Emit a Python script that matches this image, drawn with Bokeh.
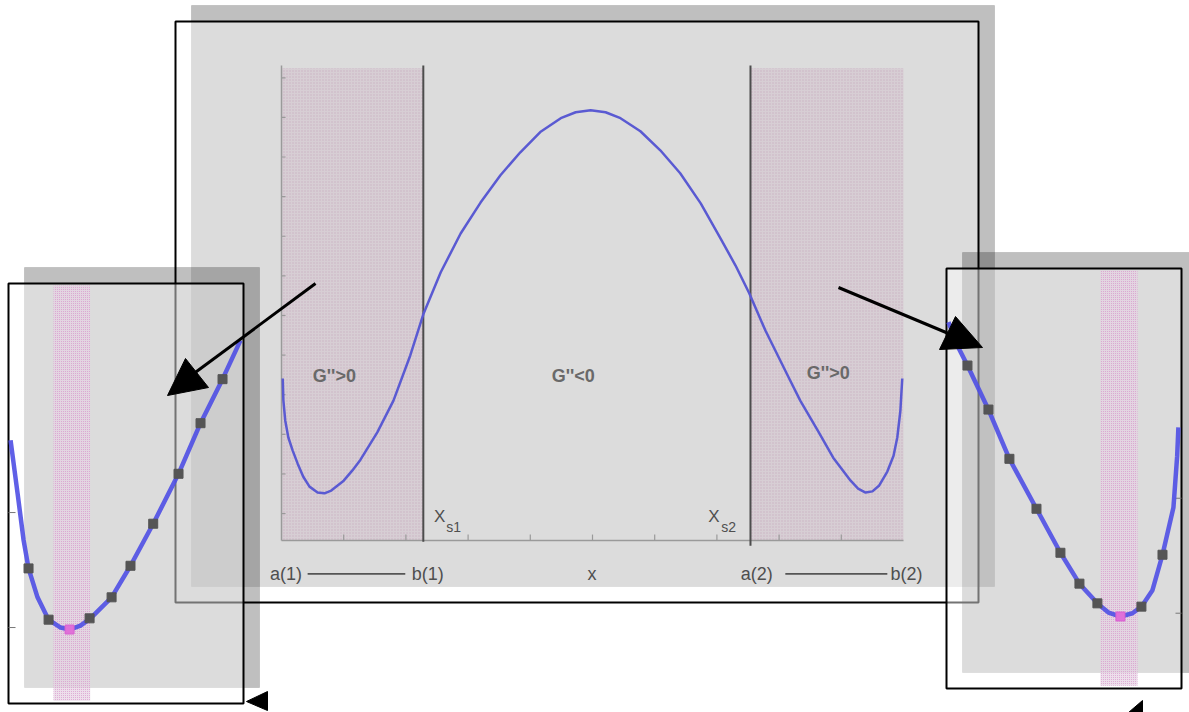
from bokeh.plotting import figure
from bokeh.models import Range1d
from bokeh.embed import file_html
from bokeh.resources import INLINE
from bokeh.core.properties import value

# ---------------- data ----------------
# free-energy curve G(x) of the main chart (composition x, arbitrary G units)
x_main = [0.002, 0.003, 0.006, 0.011, 0.018, 0.026, 0.035, 0.045, 0.058, 0.069,
          0.080, 0.100, 0.114, 0.127, 0.154, 0.180, 0.207, 0.228, 0.256, 0.288,
          0.320, 0.352, 0.384, 0.416, 0.449, 0.473, 0.497, 0.521, 0.545, 0.577,
          0.609, 0.641, 0.674, 0.706, 0.730, 0.752, 0.778, 0.814, 0.834, 0.862,
          0.887, 0.915, 0.927, 0.939, 0.950, 0.961, 0.974, 0.984, 0.990, 0.995,
          0.998]
g_main = [3.41, 2.86, 2.35, 1.92, 1.59, 1.26, 0.93, 0.68, 0.53, 0.51,
          0.58, 0.83, 1.09, 1.36, 2.05, 2.85, 3.99, 5.03, 6.09, 7.07,
          7.85, 8.54, 9.12, 9.63, 9.98, 10.13, 10.18, 10.13, 9.98, 9.65,
          9.17, 8.59, 7.83, 6.94, 6.26, 5.56, 4.62, 3.48, 2.85, 2.10,
          1.41, 0.83, 0.63, 0.53, 0.56, 0.71, 1.06, 1.46, 1.92, 2.60,
          3.41]

# spinodal compositions (G'' = 0)
x_spinodal = [0.228, 0.754]
spinodal_labels = ["s1", "s2"]

# axis ticks of the main chart
x_ticks = [0.1, 0.2, 0.3, 0.4, 0.5, 0.6, 0.7, 0.8, 0.9]
g_ticks = [0, 1, 2, 3, 4, 5, 6, 7, 8, 9, 10, 11]

# region labels
region_labels = ["G''>0", "G''<0", "G''>0"]
region_x = [0.085, 0.469, 0.879]
region_g = [3.48, 3.48, 3.56]

# labels under the composition axis
bottom_labels = ["a(1)", "b(1)", "x", "a(2)", "b(2)"]
bottom_x = [0.0074, 0.235, 0.499, 0.764, 1.005]

# magnified view near the left minimum
zl_x = [0.0009, 0.0077, 0.0135, 0.0183, 0.027, 0.0377, 0.0493, 0.058, 0.0686,
        0.0783, 0.0987, 0.117, 0.139, 0.1635, 0.1848, 0.2061, 0.2235]
zl_g = [3.39, 2.58, 1.87, 1.44, 1.00, 0.66, 0.54, 0.51, 0.57,
        0.68, 1.00, 1.48, 2.12, 2.88, 3.65, 4.32, 4.91]
zl_mx = [0.0183, 0.0377, 0.0774, 0.0987, 0.117, 0.139, 0.1635, 0.1848, 0.2061]
zl_mg = [1.44, 0.66, 0.68, 1.00, 1.48, 2.12, 2.88, 3.65, 4.32]
zl_min = (0.058, 0.51)
zl_band = (0.0425, 0.078)
zl_ticks = [0.54, 2.29]

# magnified view near the right minimum
zr_x = [0.7725, 0.7822, 0.7909, 0.8112, 0.8315, 0.8577, 0.8809, 0.8993, 0.9167,
        0.9274, 0.939, 0.9506, 0.9593, 0.970, 0.9797, 0.9903, 0.9939, 0.9951]
zr_g = [4.99, 4.60, 4.33, 3.66, 2.91, 2.15, 1.48, 1.01, 0.71,
        0.57, 0.51, 0.56, 0.66, 0.91, 1.45, 2.17, 2.95, 3.39]
zr_mx = [0.7909, 0.8112, 0.8315, 0.8577, 0.8809, 0.8993, 0.9167, 0.9593, 0.9797]
zr_mg = [4.33, 3.66, 2.91, 2.15, 1.48, 1.01, 0.71, 0.66, 1.45]
zr_min = (0.939, 0.51)
zr_band = (0.9196, 0.9555)
zr_ticks = [0.56, 2.31]

# ---------------- canvas ----------------
W, H = 1189, 712
FONT = value("Liberation Sans")
GREY_TXT = "#4f4f4f"
BLUE = "#5a5ad2"

p = figure(width=W, height=H, output_backend="svg", toolbar_location=None,
           x_range=Range1d(0, W), y_range=Range1d(H, 0),
           x_axis_type=None, y_axis_type=None, min_border=0,
           background_fill_color="white", border_fill_color="white",
           outline_line_color=None)


def framed_panel(left, top, right, bottom, shift=16):
    """Grey drop shadow plus a translucent, black-outlined card on top."""
    p.quad(left=left + shift, right=right + shift, top=top - shift, bottom=bottom - shift,
           fill_color="black", fill_alpha=0.25, line_color="black", line_alpha=0.12)
    p.quad(left=left, right=right, top=top, bottom=bottom,
           fill_color="white", fill_alpha=0.45, line_color="black", line_width=2)


# ---------- main chart ----------
framed_panel(175, 21, 978, 602, shift=16)

main = p.subplot(x_source=Range1d(0, 1), y_source=Range1d(-0.68, 11.31),
                 x_target=Range1d(281, 903), y_target=Range1d(540, 65))

# stippled G''>0 regions
main.quad(left=[0, x_spinodal[1]], right=[x_spinodal[0], 1.0], top=11.24, bottom=-0.68,
          fill_color="#d7ced4", line_color=None,
          hatch_pattern=".", hatch_color="#bf9fb8", hatch_alpha=0.6, hatch_scale=3)

# axes
main.segment(x0=[0, 0], y0=[-0.68, -0.68], x1=[1, 0], y1=[-0.68, 11.31],
             line_color="#9a9a9a", line_width=1.5)
main.segment(x0=x_ticks, y0=-0.68, x1=x_ticks, y1=-0.53,
             line_color="#9a9a9a", line_width=1.2)
main.segment(x0=0, y0=g_ticks, x1=0.0065, y1=g_ticks,
             line_color="#9a9a9a", line_width=1.2)

# spinodal lines
main.segment(x0=x_spinodal, y0=[-0.71, -0.81], x1=x_spinodal, y1=11.31,
             line_color="#4d4d4d", line_width=2)

# G(x)
main.line(x_main, g_main, line_color=BLUE, line_width=2.5, line_join="round")

# labels inside the chart
main.text(x=region_x, y=region_g, text=region_labels, text_font=FONT,
          text_font_size="18px", text_font_style="bold", text_color="#696969",
          text_align="center", text_baseline="middle")
main.text(x=[x_spinodal[0] + 0.017, x_spinodal[1] - 0.068], y=-0.08, text=["X", "X"],
          text_font=FONT, text_font_size="17px", text_color=GREY_TXT,
          text_align="left", text_baseline="middle")
main.text(x=[x_spinodal[0] + 0.037, x_spinodal[1] - 0.047], y=-0.34, text=spinodal_labels,
          text_font=FONT, text_font_size="14px", text_color=GREY_TXT,
          text_align="left", text_baseline="middle")

# labels under the axis
main.text(x=bottom_x, y=-1.52, text=bottom_labels, text_font=FONT,
          text_font_size="18px", text_color=GREY_TXT,
          text_align="center", text_baseline="middle")
main.segment(x0=[0.042, 0.81], y0=-1.52, x1=[0.199, 0.974], y1=-1.52,
             line_color="#555555", line_width=1.8)


def zoom_panel(box, x_span, g_span, xs, gs, mxs, mgs, gmin, band, ticks, tick_side):
    left, top, right, bottom = box
    framed_panel(left, top, right, bottom, shift=16)
    sub = p.subplot(x_source=Range1d(*x_span), y_source=Range1d(*g_span),
                    x_target=Range1d(left, right), y_target=Range1d(bottom, top))
    g_lo, g_hi = g_span
    x_lo, x_hi = x_span
    sub.quad(left=band[0], right=band[1], top=g_hi - 0.03, bottom=g_lo + 0.04,
             fill_color="#e6d2e2", fill_alpha=0.7, line_color=None,
             hatch_pattern=".", hatch_color="#d48cc8", hatch_alpha=0.8, hatch_scale=2)
    if tick_side == "left":
        sub.segment(x0=x_lo, y0=ticks, x1=x_lo + 0.0068, y1=ticks,
                    line_color="#777777", line_width=1)
    else:
        sub.segment(x0=x_hi - 0.0058, y0=ticks, x1=x_hi, y1=ticks,
                    line_color="#777777", line_width=1)
    sub.line(xs, gs, line_color="#4f4fe4", line_width=4.5, line_alpha=0.9, line_join="round")
    sub.scatter(mxs, mgs, marker="square", size=9, fill_color="#555555", line_color="#555555")
    sub.scatter([gmin[0]], [gmin[1]], marker="square", size=9, fill_color="#e070d8",
                line_color="#d860d0")


zoom_panel((8, 283, 243, 703), (-0.0011, 0.2264), (-0.616, 5.776),
           zl_x, zl_g, zl_mx, zl_mg, zl_min, zl_band, zl_ticks, "left")
zoom_panel((946, 268, 1181, 688), (0.7706, 0.9981), (-0.586, 5.807),
           zr_x, zr_g, zr_mx, zr_mg, zr_min, zr_band, zr_ticks, "right")

# ---------- arrows ----------
p.segment(x0=[315, 838], y0=[283, 287], x1=[192, 948], y1=[374, 333],
          line_color="black", line_width=3)
p.patches(xs=[[167, 185, 208], [955, 939, 982], [246, 267, 267], [1128, 1142, 1142]],
          ys=[[395, 358, 387], [316, 349, 347], [701, 691, 710], [712, 700, 722]],
          fill_color="black", line_color="black")

open("out.html", "w").write(file_html(p, INLINE))
